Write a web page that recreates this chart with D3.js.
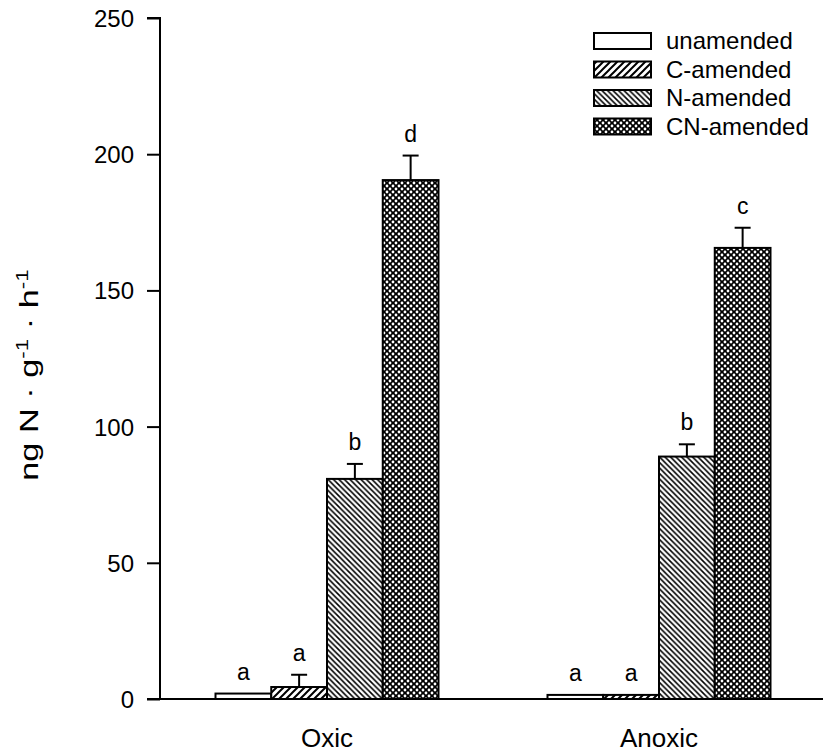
<!DOCTYPE html>
<html><head><meta charset="utf-8">
<script src="https://cdn.jsdelivr.net/npm/d3@7"></script>
<style>body{margin:0;background:#fff}svg{display:block}text{font-family:"Liberation Sans",Arial,sans-serif;fill:#000}</style>
</head><body>
<svg id="c" width="823" height="755"></svg>
<script>
const groups = ["Oxic", "Anoxic"];
const treatments = ["unamended", "C-amended", "N-amended", "CN-amended"];
const means = {
  "Oxic":   [2.0, 4.4, 80.8, 190.5],
  "Anoxic": [1.5, 1.5, 89.0, 165.6]
};
const errors = {
  "Oxic":   [0, 4.5, 5.5, 9.0],
  "Anoxic": [0, 0, 4.5, 7.4]
};
const letters = {
  "Oxic":   ["a", "a", "b", "d"],
  "Anoxic": ["a", "a", "b", "c"]
};
const yTicks = [0, 50, 100, 150, 200, 250];

const svg = d3.select("#c");
const defs = svg.append("defs");

const pC = defs.append("pattern").attr("id","pC").attr("patternUnits","userSpaceOnUse")
  .attr("width",7).attr("height",7);
pC.append("rect").attr("width",7).attr("height",7).attr("fill","#fff");
pC.append("path").attr("d","M-1,8 L8,-1 M-2,2 L2,-2 M5,9 L9,5").attr("stroke","#000").attr("stroke-width",2);

const pN = defs.append("pattern").attr("id","pN").attr("patternUnits","userSpaceOnUse")
  .attr("width",5.5).attr("height",5.5);
pN.append("rect").attr("width",5.5).attr("height",5.5).attr("fill","#fff");
pN.append("path").attr("d","M-1,-1 L6.5,6.5 M-2,3.5 L2,7.5 M3.5,-2 L7.5,2").attr("stroke","#000").attr("stroke-width",1.6);

const pCN = defs.append("pattern").attr("id","pCN").attr("patternUnits","userSpaceOnUse")
  .attr("width",6).attr("height",6);
pCN.append("rect").attr("width",6).attr("height",6).attr("fill","#000");
[[0,0],[6,0],[0,6],[6,6],[3,3]].forEach(([x,y])=>pCN.append("circle").attr("cx",x).attr("cy",y).attr("r",1.4).attr("fill","#fff"));

const fills = ["#fff","url(#pC)","url(#pN)","url(#pCN)"];

const y = d3.scaleLinear().domain([0,250]).range([699,18]);
const x = d3.scalePoint().domain(groups).range([327,659]);
const xb = d3.scaleBand().domain(treatments).range([-111.5,111.5]).padding(0);

groups.forEach(g=>{
  const gg = svg.append("g").attr("transform",`translate(${x(g)},0)`);
  treatments.forEach((t,i)=>{
    const v = means[g][i];
    gg.append("rect").attr("x",xb(t)).attr("y",y(v)).attr("width",xb.bandwidth())
      .attr("height",y(0)-y(v)).attr("fill",fills[i]).attr("stroke","#000").attr("stroke-width",2);
    const e = errors[g][i];
    const cx = xb(t)+xb.bandwidth()/2;
    if(e>0){
      gg.append("line").attr("x1",cx).attr("x2",cx).attr("y1",y(v)).attr("y2",y(v+e)).attr("stroke","#000").attr("stroke-width",2);
      gg.append("line").attr("x1",cx-8).attr("x2",cx+8).attr("y1",y(v+e)).attr("y2",y(v+e)).attr("stroke","#000").attr("stroke-width",2);
    }
    gg.append("text").attr("x",cx).attr("y",y(v+e)-14).attr("text-anchor","middle")
      .attr("font-size",23).text(letters[g][i]);
  });
});

const yAxis = d3.axisLeft(y).tickValues(yTicks).tickSize(13).tickPadding(13);
const ya = svg.append("g").attr("transform","translate(160,0)").call(yAxis);
ya.select(".domain").attr("d",`M-13,${y(250)}H0V${y(0)}`).attr("stroke-width",2);
ya.selectAll(".tick line").attr("stroke-width",2);
ya.selectAll(".tick text").attr("font-size",24).attr("font-family","Liberation Sans, Arial, sans-serif").attr("dy","0.35em");

svg.append("line").attr("x1",147).attr("x2",823).attr("y1",y(0)).attr("y2",y(0)).attr("stroke","#000").attr("stroke-width",2);

groups.forEach(g=>{
  svg.append("text").attr("x",x(g)).attr("y",747).attr("text-anchor","middle").attr("font-size",26).text(g);
});

const yl = svg.append("text").attr("transform",`translate(38,375) rotate(-90) scale(1.32,1)`)
  .attr("text-anchor","middle").attr("font-size",26);
yl.append("tspan").text("ng N · g");
yl.append("tspan").attr("dy",-10).attr("font-size",17).text("-1");
yl.append("tspan").attr("dy",10).text(" · h");
yl.append("tspan").attr("dy",-10).attr("font-size",17).text("-1");

const lg = svg.append("g");
treatments.forEach((t,i)=>{
  const yy = 33 + i*28.5;
  lg.append("rect").attr("x",594).attr("y",yy).attr("width",57).attr("height",16)
    .attr("fill",fills[i]).attr("stroke","#000").attr("stroke-width",2);
  lg.append("text").attr("x",666).attr("y",yy+16).attr("font-size",24).text(t);
});
</script>
</body></html>
